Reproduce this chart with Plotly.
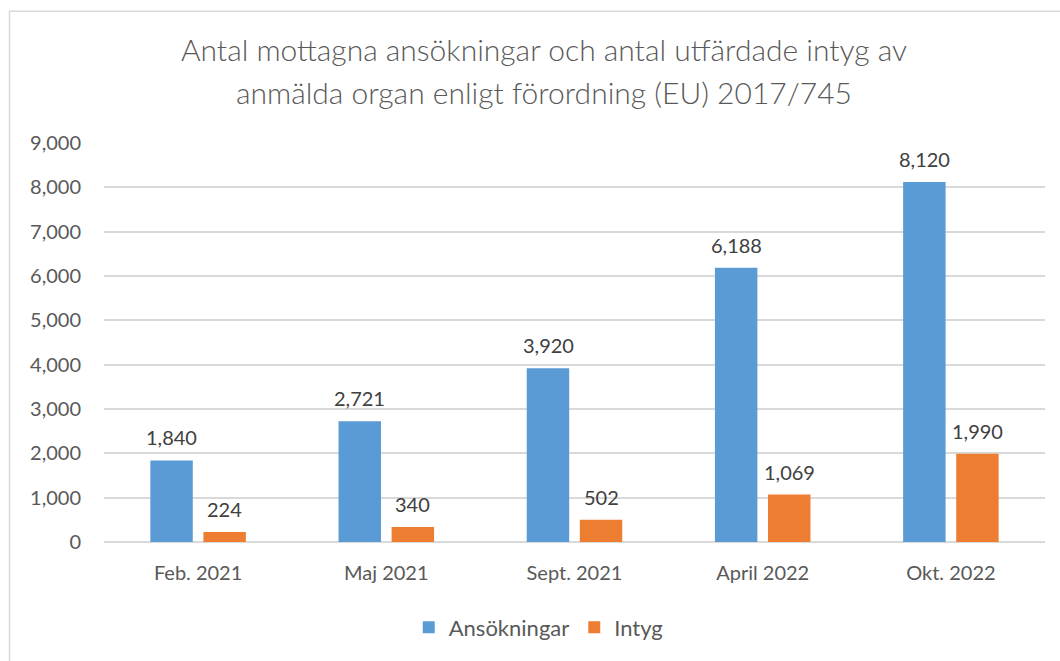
import plotly.graph_objects as go

categories = ["Feb. 2021", "Maj 2021", "Sept. 2021", "April 2022", "Okt. 2022"]
ansokningar = [1840, 2721, 3920, 6188, 8120]
intyg = [224, 340, 502, 1069, 1990]
series_names = ["Ansökningar", "Intyg"]
title_lines = ["Antal mottagna ansökningar och antal utfärdade intyg av",
               "anmälda organ enligt förordning (EU) 2017/745"]

BLUE = "#5B9BD5"
ORANGE = "#ED7D31"
FONT = "Lato"
TXT = "#595959"

fig = go.Figure()
fig.add_trace(go.Bar(x=categories, y=ansokningar, name=series_names[0],
                     marker=dict(color=BLUE, line=dict(width=0))))
fig.add_trace(go.Bar(x=categories, y=intyg, name=series_names[1],
                     marker=dict(color=ORANGE, line=dict(width=0))))

annotations = []
for vals, shift in ((ansokningar, -26.5), (intyg, 26.5)):
    for c, v in zip(categories, vals):
        annotations.append(dict(x=c, y=v, xref="x", yref="y", text=f"{v:,}",
                                showarrow=False, yanchor="bottom", yshift=9,
                                xshift=shift,
                                font=dict(family=FONT, size=20, color="#404040")))

PLOT_TOP, PLOT_BOT = 143, 544
H = PLOT_BOT - PLOT_TOP
for i, line in enumerate(title_lines):
    annotations.append(dict(x=(544 - 104) / 941, y=(PLOT_BOT - [49, 92][i]) / H,
                            xref="paper", yref="paper",
                            text=line, showarrow=False, yanchor="middle",
                            xanchor="center",
                            font=dict(family=FONT, size=30, color=TXT, weight=300)))

fig.update_layout(
    width=1060, height=661,
    margin=dict(l=104, r=15, t=PLOT_TOP, b=661 - PLOT_BOT),
    paper_bgcolor="white", plot_bgcolor="white",
    barmode="group", bargap=0.436, bargroupgap=0.2,
    showlegend=True,
    legend=dict(orientation="h", x=0.462, xanchor="center",
                y=(PLOT_BOT - 630) / H, yanchor="middle",
                font=dict(family=FONT, size=22, color=TXT),
                itemwidth=30, traceorder="normal"),
    annotations=annotations,
    font=dict(family=FONT, color=TXT),
)
fig.update_yaxes(range=[0, 9000], dtick=1000, tickformat=",",
                 showgrid=True, gridcolor="#D9D9D9", gridwidth=1.5,
                 zeroline=True, zerolinecolor="#D9D9D9", zerolinewidth=1.5,
                 showline=False, ticklabelstandoff=22,
                 tickfont=dict(family=FONT, size=20, color=TXT))
fig.update_xaxes(showgrid=False, showline=False, ticklabelstandoff=17,
                 tickfont=dict(family=FONT, size=20, color=TXT))

# outer chart border (light gray frame)
fig.add_shape(type="rect", xref="paper", yref="paper",
              x0=(9.5 - 104) / 941, x1=(1075 - 104) / 941,
              y0=(PLOT_BOT - 680) / H, y1=(PLOT_BOT - 10.5) / H,
              line=dict(color="#D9D9D9", width=1.5), fillcolor="rgba(0,0,0,0)",
              layer="below")

fig.write_html("out.html")
